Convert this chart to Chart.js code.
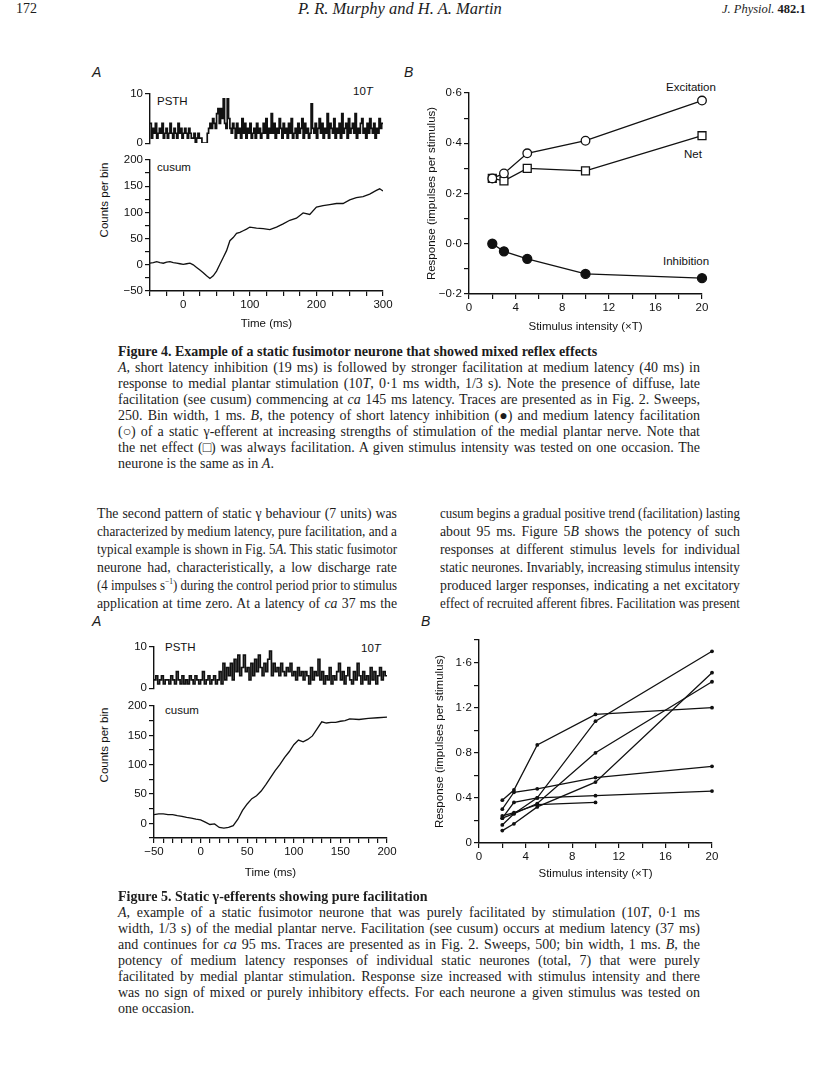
<!DOCTYPE html>
<html>
<head>
<meta charset="utf-8">
<script src="https://cdn.jsdelivr.net/npm/chart.js@4.4.0/dist/chart.umd.min.js"></script>
<style>
  body { margin:0; background:#fff; }
  #page { position:relative; width:816px; height:1091px; overflow:hidden; color:#1c1c1c;
          font-family:"Liberation Serif","DejaVu Serif",serif; }
  .t { position:absolute; white-space:nowrap; line-height:1; }
  .sans { font-family:"Liberation Sans",Arial,sans-serif; }
  .lbl { font-size:11.5px; color:#111; }
  .panel { font-size:14px; font-style:italic; }
  .rot { transform:translate(-50%,-50%) rotate(-90deg); }
  canvas { position:absolute; }
  .ln { position:absolute; white-space:nowrap; transform-origin:0 0; }
  .cap { font-size:14px; line-height:16px; }
  .body { font-size:13.8px; line-height:18px; }
  sup { font-size:8px; line-height:0; }
</style>
</head>
<body>
<div id="page">
  <!-- running head -->
  <div class="t" style="left:16px;top:2px;font-size:14px;">172</div>
  <div class="t" style="left:298px;top:1px;font-size:16.5px;font-style:italic;">P. R. Murphy and H. A. Martin</div>
  <div class="t" style="left:722px;top:3px;font-size:12.5px;"><i>J. Physiol.</i> <b>482.1</b></div>

  <!-- figure 4 -->
  <div class="t sans panel" style="left:92px;top:65px;">A</div>
  <div class="t sans panel" style="left:404px;top:65px;">B</div>
  <div class="t sans lbl" style="left:157px;top:96px;">PSTH</div>
  <div class="t sans lbl" style="left:353px;top:86px;">10<i>T</i></div>
  <div class="t sans lbl" style="left:157px;top:162px;">cusum</div>
  <div class="t sans lbl rot" style="left:105px;top:200px;">Counts per bin</div>
  <div class="t sans lbl" style="left:666px;top:82px;">Excitation</div>
  <div class="t sans lbl" style="left:684px;top:149px;">Net</div>
  <div class="t sans lbl" style="left:663px;top:256px;">Inhibition</div>
  <canvas id="f4psth"></canvas>
  <canvas id="f4cusum"></canvas>
  <canvas id="f4b"></canvas>

  <!-- figure 5 -->
  <div class="t sans panel" style="left:92px;top:614px;">A</div>
  <div class="t sans panel" style="left:421px;top:614px;">B</div>
  <div class="t sans lbl" style="left:165px;top:642px;">PSTH</div>
  <div class="t sans lbl" style="left:361px;top:643px;">10<i>T</i></div>
  <div class="t sans lbl" style="left:165px;top:705px;">cusum</div>
  <div class="t sans lbl rot" style="left:105px;top:745px;">Counts per bin</div>
  <canvas id="f5psth"></canvas>
  <canvas id="f5cusum"></canvas>
  <canvas id="f5b"></canvas>

  <div id="text"></div>
</div>

<script>
// ---- Figure 4 data ----
// PSTH, 2 ms bins starting at -50 ms (counts per bin)
const psth4Start = -50, psth4Bin = 2;
const psth4 = [4,1,3,2,4,1,2,3,2,4, 1,2,3,1,2,4,2,1,3,2, 1,4,2,3,1,2,3,2,1,3,
  2,1,1,2,0,1,2,1,1,0,0,0,0,
  2,3,4,3,5,4,3,
  6,7,4,7,5,9,4,3,9,5,3,
  2,4,3,1,4,2,3,1,5,2, 4,1,3,2,4,1,2,3,1,4, 2,3,1,2,4,2,5,1,3,2, 6,2,4,1,3,2,5,3,1,4,
  2,3,1,4,2,5,1,2,3,1, 4,2,3,5,1,4,2,3,1,2, 8,3,2,4,1,3,5,2,4,1, 3,2,6,1,4,3,2,5,1,3,
  2,4,1,6,2,3,4,1,5,2, 3,4,2,6,1,3,2,4,5,2, 3,1,4,2,5,3,2,4,1,3, 2,5,3,4];
// cusum
const cusum4Time = [-50,-45,-40,-35,-30,-25,-20,-15,-10,-5,0,5,10,15,20,25,30,35,40,45,50,55,60,65,70,75,80,85,90,95,100,
  110,120,130,140,150,160,170,180,190,200,210,220,230,240,250,260,270,280,290,295,300];
const cusum4 = [3,4,6,4,3,5,6,4,3,2,1,2,3,0,-5,-10,-15,-21,-26,-21,-12,1,14,27,46,52,60,62,65,68,72,
  70,69,67,72,78,85,89,99,96,110,113,115,117,117,124,128,130,135,142,145,141];
// panel B
const intensity4 = [2, 3, 5, 10, 20];
const excitation = [0.26, 0.28, 0.36, 0.41, 0.57];
const net = [0.26, 0.25, 0.30, 0.29, 0.43];
const inhibition = [0.0, -0.03, -0.06, -0.12, -0.137];

// ---- Figure 5 data ----
const psth5Start = -50, psth5Bin = 2;
const psth5 = [2,3,1,2,3,1,2,2,1,3, 2,1,4,2,1,3,1,2,1,3, 2,1,3,2,1,2,4,1,2,3,
  1,2,3,1,2,4,1,6,2,5, 3,6,2,7,4,8,3,5,8,4, 5,2,6,3,7,4,8,5,3,6,
  4,7,9,3,6,4,5,3,6,4, 3,5,4,6,3,4,2,5,3,4, 2,4,3,1,5,2,4,3,7,2,
  4,1,3,2,5,1,3,2,4,6, 2,4,1,3,5,2,1,4,2,6, 3,1,4,2,3,1,5,2,4,1, 3,5,2,4,3];
const cusum5Time = [-50,-45,-40,-35,-30,-25,-20,-15,-10,-5,0,5,10,15,20,25,30,35,40,45,50,55,60,65,70,75,80,85,90,95,
  100,105,110,115,120,125,130,135,140,145,150,155,160,170,180,190,200];
const cusum5 = [15,16,16,15,15,13,12,10,9,7,6,2,-2,-1,-7,-8,-7,-4,7,22,33,42,47,55,66,78,90,100,112,122,
  134,142,139,143,149,161,173,171,172,172,174,175,178,177,179,180,181];
// panel B: one series per neurone
const intensity5 = [2, 3, 5, 10, 20];
const neurone1 = [0.38, 0.47, 0.87, 1.14, 1.20];
const neurone2 = [0.30, 0.45, 0.48, 0.58, 0.68];
const neurone3 = [0.22, 0.36, 0.40, 0.42, 0.46];
const neurone4 = [0.24, 0.27, 0.34, 0.36, null];
const neurone5 = [0.16, 0.26, 0.35, 0.80, 1.43];
const neurone6 = [0.11, 0.17, 0.32, 0.54, 1.51];
const neurone7 = [0.22, 0.26, 0.40, 1.08, 1.70];

// ---- text ----
const cap4 = [
  '<b>Figure 4. Example of a static fusimotor neurone that showed mixed reflex effects</b>',
  '<i>A</i>, short latency inhibition (19 ms) is followed by stronger facilitation at medium latency (40 ms) in',
  'response to medial plantar stimulation (10<i>T</i>, 0·1 ms width, 1/3 s). Note the presence of diffuse, late',
  'facilitation (see cusum) commencing at <i>ca</i> 145 ms latency. Traces are presented as in Fig. 2. Sweeps,',
  '250. Bin width, 1 ms. <i>B</i>, the potency of short latency inhibition (●) and medium latency facilitation',
  '(○) of a static γ-efferent at increasing strengths of stimulation of the medial plantar nerve. Note that',
  'the net effect (□) was always facilitation. A given stimulus intensity was tested on one occasion. The',
  'neurone is the same as in <i>A</i>.'
];
const bodyLeft = [
  'The second pattern of static γ behaviour (7 units) was',
  'characterized by medium latency, pure facilitation, and a',
  'typical example is shown in Fig. 5<i>A</i>. This static fusimotor',
  'neurone had, characteristically, a low discharge rate',
  '(4 impulses s<sup>−1</sup>) during the control period prior to stimulus',
  'application at time zero. At a latency of <i>ca</i> 37 ms the'
];
const bodyRight = [
  'cusum begins a gradual positive trend (facilitation) lasting',
  'about 95 ms. Figure 5<i>B</i> shows the potency of such',
  'responses at different stimulus levels for individual',
  'static neurones. Invariably, increasing stimulus intensity',
  'produced larger responses, indicating a net excitatory',
  'effect of recruited afferent fibres. Facilitation was present'
];
const cap5 = [
  '<b>Figure 5. Static γ-efferents showing pure facilitation</b>',
  '<i>A</i>, example of a static fusimotor neurone that was purely facilitated by stimulation (10<i>T</i>, 0·1 ms',
  'width, 1/3 s) of the medial plantar nerve. Facilitation (see cusum) occurs at medium latency (37 ms)',
  'and continues for <i>ca</i> 95 ms. Traces are presented as in Fig. 2. Sweeps, 500; bin width, 1 ms. <i>B</i>, the',
  'potency of medium latency responses of individual static neurones (total, 7) that were purely',
  'facilitated by medial plantar stimulation. Response size increased with stimulus intensity and there',
  'was no sign of mixed or purely inhibitory effects. For each neurone a given stimulus was tested on',
  'one occasion.'
];

// lines are placed one by one and stretched (or squeezed) to the column width
function addLines(lines, left, width, top, step, cls, justify) {
  const host = document.getElementById('text');
  lines.forEach((html, i) => {
    const d = document.createElement('div');
    d.className = 'ln ' + cls;
    d.style.left = left + 'px';
    d.style.top = (top + i * step) + 'px';
    const s = document.createElement('span');
    s.innerHTML = html;
    d.appendChild(s);
    host.appendChild(d);
    const natural = s.getBoundingClientRect().width;
    if (natural > width) {
      d.style.transform = 'scaleX(' + (width / natural) + ')';
    } else if (justify(i)) {
      const spaces = (s.textContent.match(/ /g) || []).length;
      if (spaces) d.style.wordSpacing = ((width - natural) / spaces) + 'px';
    }
  });
}
addLines(cap4, 118, 582, 344, 16, 'cap', i => i > 0 && i < cap4.length - 1);
addLines(bodyLeft, 97, 300, 505, 18, 'body', () => true);
addLines(bodyRight, 440, 300, 505, 18, 'body', () => true);
addLines(cap5, 118, 582, 889, 16, 'cap', i => i > 0 && i < cap5.length - 1);

// ---- charts ----
Chart.defaults.font.family = '"Liberation Sans", Arial, sans-serif';
Chart.defaults.font.size = 11.5;
Chart.defaults.color = '#111';

const minus = v => (v < 0 ? '−' : '') + Math.abs(v);
const dec = v => (v < -1e-9 ? '−' : '') + Math.abs(v).toFixed(1).replace('.', '·');

function axis(min, max, step, label, size, title) {
  const a = {
    type: 'linear', min: min, max: max,
    border: {color: '#111', width: 1.4},
    grid: {drawOnChartArea: false, tickLength: 5, color: '#111', lineWidth: 1.2},
    ticks: {stepSize: step, color: '#111', font: {size: 11.5}, padding: 2, autoSkip: false, maxRotation: 0, callback: label},
    afterFit: s => { if (s.isHorizontal()) s.height = size; else s.width = size; }
  };
  if (title) a.title = {display: true, text: title, color: '#111', font: {size: 11.5}, padding: {top: 2, bottom: 4}};
  return a;
}

function steps(start, width, vals) {
  const pts = vals.map((v, i) => ({x: start + i * width, y: v}));
  pts.push({x: start + vals.length * width, y: vals[vals.length - 1]});
  return pts;
}
const pairs = (xs, ys) => xs.map((x, i) => ({x: x, y: ys[i]}));

function makeChart(id, box, pad, datasets, scales) {
  const c = document.getElementById(id);
  c.width = box.w; c.height = box.h;
  c.style.left = box.x + 'px'; c.style.top = box.y + 'px';
  return new Chart(c, {
    type: 'line',
    data: {datasets: datasets},
    options: {
      responsive: false, animation: false, devicePixelRatio: 1,
      layout: {padding: pad},
      plugins: {legend: {display: false}, tooltip: {enabled: false}},
      scales: scales
    }
  });
}

const trace = {borderColor: '#111', borderWidth: 1.3, pointRadius: 0, fill: false};
const hist = {borderColor: '#111', borderWidth: 1.7, pointRadius: 0, fill: false, stepped: 'before'};

// Fig 4A PSTH
makeChart('f4psth', {x: 110, y: 85, w: 283, h: 67}, {top: 8, right: 10, bottom: 7, left: 0},
  [Object.assign({data: steps(psth4Start, psth4Bin, psth4)}, hist)],
  {x: Object.assign(axis(-50, 300, 50, minus, 0), {display: false}),
   y: axis(0, 10, 10, minus, 40)});

// Fig 4A cusum
makeChart('f4cusum', {x: 110, y: 150, w: 287, h: 185}, {top: 10, right: 14, bottom: 0, left: 0},
  [Object.assign({data: pairs(cusum4Time, cusum4)}, trace)],
  {x: axis(-50, 300, 25, v => v % 100 === 0 ? minus(v) : '', 44, 'Time (ms)'),
   y: axis(-50, 200, 25, v => v % 50 === 0 ? minus(v) : '', 40)});

// Fig 4B
const mark = {borderColor: '#111', borderWidth: 1.3, pointBorderWidth: 1.3, pointBorderColor: '#111', clip: false};
makeChart('f4b', {x: 423, y: 83, w: 299, h: 255}, {top: 10, right: 20, bottom: 0, left: 0},
  [Object.assign({label: 'Excitation', data: pairs(intensity4, excitation), pointStyle: 'circle', pointRadius: 4.3, pointBackgroundColor: '#fff'}, mark),
   Object.assign({label: 'Net', data: pairs(intensity4, net), pointStyle: 'rect', pointRadius: 5.6, pointBackgroundColor: '#fff'}, mark),
   Object.assign({label: 'Inhibition', data: pairs(intensity4, inhibition), pointStyle: 'circle', pointRadius: 4.5, pointBackgroundColor: '#111'}, mark)],
  {x: axis(0, 20, 2, v => v % 4 === 0 ? v : '', 44, 'Stimulus intensity (×T)'),
   y: axis(-0.2, 0.6, 0.1, v => Math.round(v * 10) % 2 === 0 ? dec(v) : '', 46, 'Response (impulses per stimulus)')});

// Fig 5A PSTH
makeChart('f5psth', {x: 114, y: 638, w: 283, h: 59}, {top: 8, right: 10, bottom: 7, left: 0},
  [Object.assign({data: steps(psth5Start, psth5Bin, psth5)}, hist)],
  {x: Object.assign(axis(-50, 200, 50, minus, 0), {display: false}),
   y: axis(0, 10, 10, minus, 40)});

// Fig 5A cusum
makeChart('f5cusum', {x: 114, y: 696, w: 287, h: 188}, {top: 10, right: 14, bottom: 0, left: 0},
  [Object.assign({data: pairs(cusum5Time, cusum5)}, trace)],
  {x: axis(-50, 200, 10, v => v % 50 === 0 ? minus(v) : '', 46, 'Time (ms)'),
   y: axis(-25, 200, 25, v => v % 50 === 0 ? minus(v) : '', 40)});

// Fig 5B
const neurones = [neurone1, neurone2, neurone3, neurone4, neurone5, neurone6, neurone7];
makeChart('f5b', {x: 431, y: 630, w: 301, h: 255}, {top: 10, right: 20, bottom: 0, left: 0},
  neurones.map(n => ({data: pairs(intensity5, n), borderColor: '#111', borderWidth: 1.3, clip: false,
    pointRadius: 1.9, pointBackgroundColor: '#111', pointBorderWidth: 0})),
  {x: axis(0, 20, 2, v => v % 4 === 0 ? v : '', 42, 'Stimulus intensity (×T)'),
   y: axis(0, 1.8, 0.2, v => Math.round(v * 10) % 4 === 0 ? (v === 0 ? '0' : dec(v)) : '', 48, 'Response (impulses per stimulus)')});
</script>
</body>
</html>
